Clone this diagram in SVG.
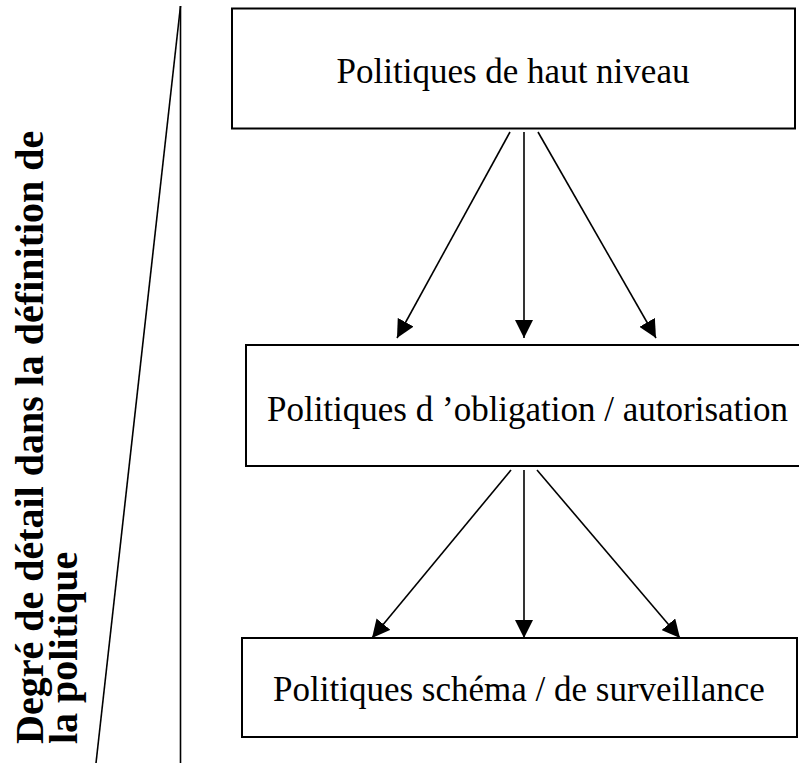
<svg xmlns="http://www.w3.org/2000/svg" width="799" height="763" viewBox="0 0 799 763">
  <style>
    .box { fill: #fff; stroke: #000; stroke-width: 2; }
    .label { font-family: "Liberation Serif", "Times New Roman", serif; font-size: 35px; fill: #000; }
    .axis { font-family: "Liberation Serif", "Times New Roman", serif; font-size: 40px; font-weight: bold; fill: #000; }
    .guide { stroke: #000; stroke-width: 1.6; fill: none; }
    .conn { stroke: #000; stroke-width: 1.6; fill: none; marker-end: url(#head); }
  </style>
  <defs>
    <!-- solid triangular arrowhead, drawn in user units -->
    <marker id="head" markerUnits="userSpaceOnUse" markerWidth="20" markerHeight="18" refX="18" refY="9" orient="auto">
      <path d="M0,0 L18,9 L0,18 Z" fill="#000"/>
    </marker>
  </defs>
  <rect width="799" height="763" fill="#fff"/>

  <!-- axis: level of detail -->
  <g id="axis">
    <line class="guide" x1="180.5" y1="6" x2="180.5" y2="763"/>
    <line class="guide" x1="180.5" y1="6" x2="96" y2="763"/>
    <text class="axis" transform="translate(43,744) rotate(-90)">Degré de détail dans la définition de</text>
    <text class="axis" transform="translate(77,744) rotate(-90)">la politique</text>
  </g>

  <g id="high-level">
    <rect class="box" x="232" y="8.5" width="563" height="120"/>
    <text class="label" x="513" y="83" text-anchor="middle">Politiques de haut niveau</text>
  </g>

  <g id="obligation">
    <rect class="box" x="246" y="345" width="570" height="121"/>
    <text class="label" x="527.5" y="421" text-anchor="middle">Politiques d ’obligation / autorisation</text>
  </g>

  <g id="schema">
    <rect class="box" x="242" y="638" width="555" height="99"/>
    <text class="label" x="519" y="701" text-anchor="middle">Politiques schéma / de surveillance</text>
  </g>

  <g id="connectors">
    <line class="conn" x1="510" y1="132" x2="397" y2="338"/>
    <line class="conn" x1="524" y1="132" x2="524" y2="338"/>
    <line class="conn" x1="538" y1="132" x2="656" y2="338"/>
    <line class="conn" x1="511" y1="470" x2="372" y2="638"/>
    <line class="conn" x1="524" y1="470" x2="524" y2="638"/>
    <line class="conn" x1="537" y1="470" x2="680" y2="638"/>
  </g>
</svg>
